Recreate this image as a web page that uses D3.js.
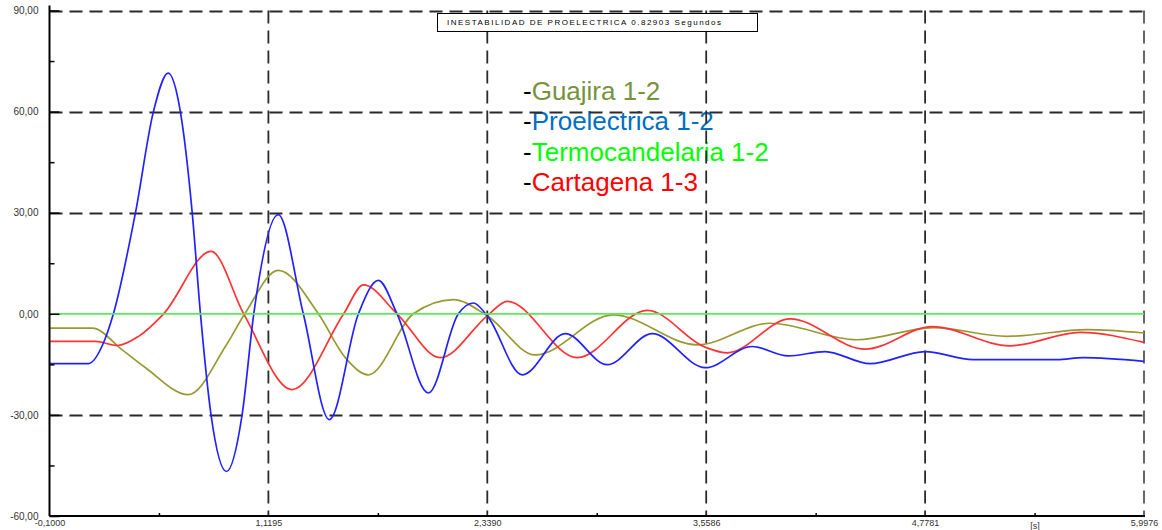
<!DOCTYPE html>
<html>
<head>
<meta charset="utf-8">
<script src="https://cdn.jsdelivr.net/npm/d3@7/dist/d3.min.js"></script>
<style>
  html, body { margin: 0; padding: 0; background: #fff; }
  svg { display: block; }
</style>
</head>
<body>
<svg id="chart" width="1162" height="530"></svg>
<script>
// Ángulo del rotor (grados) frente al tiempo (s)
const titleText = "INESTABILIDAD DE PROELECTRICA 0.82903 Segundos";

const seriesNames = ["Guajira 1-2", "Proelectrica 1-2", "Termocandelaria 1-2", "Cartagena 1-3"];

const guajiraTime   = [-0.1, 0.139, 0.305, 0.435, 0.674, 0.880, 0.988, 1.175, 1.398, 1.548, 1.676, 1.927, 2.150, 2.339, 2.606, 3.041, 3.508, 3.915, 4.399, 4.823, 5.235, 5.680, 5.9976];
const guajiraValues = [-4.25, -4.25, -10.7, -16, -24, -9.7, 0, 12.9, 0, -13, -18.1, 0, 4.2, -0.6, -12.2, -0.3, -9.2, -2.8, -7.7, -4.1, -6.7, -4.7, -5.7];

const proelectricaTime   = [-0.1, 0.117, 0.201, 0.256, 0.379, 0.479, 0.561, 0.629, 0.695, 0.741, 0.800, 0.886, 0.973, 1.038, 1.174, 1.314, 1.459, 1.621, 1.732, 1.836, 2.011, 2.178, 2.261, 2.339, 2.534, 2.773, 3.007, 3.258, 3.553, 3.815, 4.015, 4.221, 4.472, 4.778, 5.045, 5.513, 5.658, 5.9976];
const proelectricaValues = [-14.8, -14.8, -8.6, 0, 30, 60, 71.4, 60, 30, 0, -30, -46.8, -30, 0, 29.4, 0, -31.4, 0, 9.9, 0, -23.5, 0, 3.2, -0.6, -18.1, -5.9, -15.1, -5.9, -16, -9.7, -12.5, -11.2, -14.8, -11.2, -13.6, -13.6, -13, -14.1];

const termocandelariaTime   = [-0.1, 5.9976];
const termocandelariaValues = [0, 0];

const cartagenaTime   = [-0.1, 0.156, 0.279, 0.396, 0.536, 0.800, 0.982, 1.252, 1.539, 1.649, 1.836, 2.077, 2.339, 2.450, 2.840, 3.230, 3.553, 3.676, 4.026, 4.444, 4.817, 5.251, 5.641, 5.9976];
const cartagenaValues = [-8.2, -8.2, -9.4, -6.7, 0, 18.5, 0, -22.5, 0, 8.6, 0, -13, -0.6, 3.7, -13, 1.0, -9.9, -11.6, -1.5, -10.5, -3.8, -9.5, -5.5, -8.5];

const xTicks = [-0.1, 1.1195, 2.339, 3.5586, 4.7781, 5.9976];
const xMinorTicks = [0.50975, 1.72925, 2.9488, 4.16835, 5.38785];
const xUnitLabel = "[s]";
const yTicks = [-60, -30, 0, 30, 60, 90];
const yMinorTicks = [-45, -15, 15, 45, 75];

const lineColors   = ["#999933", "#2222ff", "#55ee55", "#ff3333"];
const legendColors = ["#77933c", "#0070c0", "#00ff00", "#ff0000"];

const svg = d3.select("#chart");
const W = 1162, H = 530;
svg.append("rect").attr("width", W).attr("height", H).attr("fill", "#fff");

const plot = { left: 49.5, right: 1144, top: 10.5, bottom: 516 };
const x = d3.scaleLinear().domain([-0.1, 5.9976]).range([plot.left, plot.right]);
const y = d3.scaleLinear().domain([-60, 90]).range([plot.bottom, plot.top]);

const locale = d3.formatLocale({ decimal: ",", thousands: ".", grouping: [3], currency: ["", ""], minus: "-" });
const fmtY = locale.format(".2f");
const fmtX = locale.format(".4f");

// Leyenda
const legend = svg.append("g")
  .attr("font-family", "'Liberation Sans', Arial, sans-serif")
  .attr("font-size", 26);
const legendBaselines = [99.5, 130, 160.5, 190.5];
seriesNames.forEach((name, i) => {
  const t = legend.append("text").attr("x", 523).attr("y", legendBaselines[i]);
  t.append("tspan").attr("fill", "#000").text("-");
  t.append("tspan").attr("fill", legendColors[i]).text(name);
});

// Rejilla discontinua (la de 0 queda bajo la línea de Termocandelaria)
const grid = svg.append("g")
  .attr("stroke", "#2a2a2a")
  .attr("stroke-width", 1.8)
  .attr("stroke-dasharray", "13,7")
  .attr("fill", "none");
yTicks.filter(v => v > -60 && v !== 0).forEach(v => {
  grid.append("line")
    .attr("x1", plot.left).attr("x2", plot.right)
    .attr("y1", Math.round(y(v)) + 0.5).attr("y2", Math.round(y(v)) + 0.5);
});
xTicks.filter(v => v > -0.1).forEach((v, i, arr) => {
  grid.append("line")
    .attr("x1", x(v)).attr("x2", x(v))
    .attr("y1", plot.top).attr("y2", plot.bottom)
    .attr("stroke", i === arr.length - 1 ? "#555" : null);
});

// Caja de título
svg.append("rect")
  .attr("x", 437.5).attr("y", 13.5).attr("width", 320).attr("height", 18)
  .attr("fill", "#fff").attr("stroke", "#000").attr("stroke-width", 1);
svg.append("text")
  .attr("x", 447).attr("y", 25)
  .attr("font-family", "'Liberation Sans', Arial, sans-serif")
  .attr("font-size", 8)
  .attr("fill", "#000")
  .attr("textLength", 274)
  .attr("lengthAdjust", "spacing")
  .text(titleText);

// Curvas
const series = [
  { t: guajiraTime, v: guajiraValues, c: lineColors[0] },
  { t: cartagenaTime, v: cartagenaValues, c: lineColors[3] },
  { t: proelectricaTime, v: proelectricaValues, c: lineColors[1] },
  { t: termocandelariaTime, v: termocandelariaValues, c: lineColors[2] }
];
const line = d3.line()
  .x(d => x(d[0]))
  .y(d => y(d[1]))
  .curve(d3.curveMonotoneX);
const curves = svg.append("g").attr("fill", "none").attr("stroke-width", 1.7);
series.forEach(s => {
  curves.append("path")
    .attr("d", line(s.t.map((t, i) => [t, s.v[i]])))
    .attr("stroke", s.c);
});

// Eje Y
const axisFont = "'Liberation Sans', Arial, sans-serif";
const yAxis = svg.append("g")
  .attr("transform", `translate(${plot.left},0)`)
  .call(d3.axisLeft(y).tickValues(yTicks).tickSizeInner(-10).tickSizeOuter(0).tickPadding(11).tickFormat(fmtY));
yAxis.select(".domain").attr("stroke", "#000").attr("stroke-width", 2).attr("d", `M0,${plot.top - 5}V${plot.bottom}`);
yAxis.selectAll(".tick line").attr("stroke", "#000").attr("stroke-width", 1.5);
yAxis.selectAll("text").attr("font-family", axisFont).attr("font-size", 10).attr("fill", "#333");
const yMinor = svg.append("g")
  .attr("transform", `translate(${plot.left},0)`)
  .call(d3.axisLeft(y).tickValues(yMinorTicks).tickSizeInner(-5).tickSizeOuter(0).tickFormat(""));
yMinor.select(".domain").remove();
yMinor.selectAll(".tick line").attr("stroke", "#000").attr("stroke-width", 1.5);

// Eje X
const xAxis = svg.append("g")
  .attr("transform", `translate(0,${plot.bottom})`)
  .call(d3.axisBottom(x).tickValues(xTicks).tickSizeInner(0).tickSizeOuter(0).tickPadding(4).tickFormat(fmtX));
xAxis.select(".domain").attr("stroke", "#000").attr("stroke-width", 2).attr("d", `M${plot.left},0H${plot.right + 1}`);
xAxis.selectAll("text").attr("font-family", axisFont).attr("font-size", 9).attr("fill", "#333");
const xMinor = svg.append("g")
  .attr("transform", `translate(0,${plot.bottom})`)
  .call(d3.axisBottom(x).tickValues(xMinorTicks).tickSizeInner(-3).tickSizeOuter(0).tickPadding(7)
    .tickFormat((d, i) => i === xMinorTicks.length - 1 ? xUnitLabel : ""));
xMinor.select(".domain").remove();
xMinor.selectAll(".tick line").attr("stroke", "#000").attr("stroke-width", 1.5);
xMinor.selectAll("text").attr("font-family", axisFont).attr("font-size", 9).attr("fill", "#333");
</script>
</body>
</html>
